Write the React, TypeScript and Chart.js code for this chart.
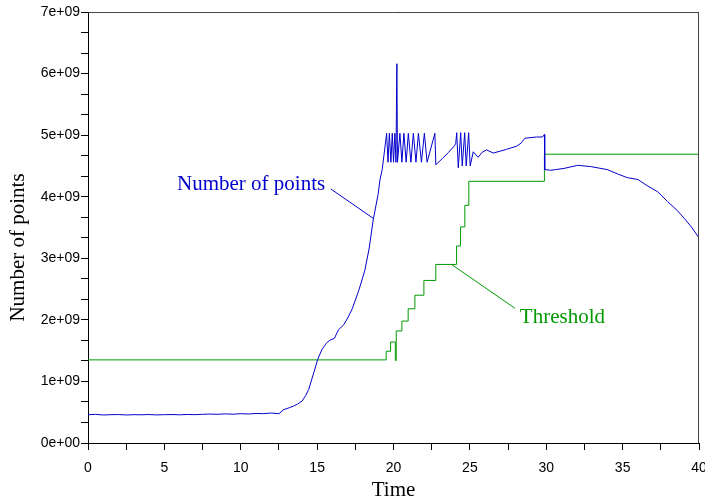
import React, { useEffect, useRef } from 'react';
import { Chart, registerables } from 'chart.js';

Chart.register(...registerables);

// ---- Data ----
const pointsTime = [
  0, 0.5, 1, 1.5, 2, 2.5, 3, 3.5, 4, 4.5, 5, 5.5, 6, 6.5, 7, 7.5, 8, 8.5, 9, 9.5, 10, 10.5, 11, 11.5, 12, 12.5,
  12.8, 13.2, 13.46, 13.7, 14.01, 14.25, 14.45, 14.78, 15.04, 15.32, 15.6, 15.83, 16.13, 16.4, 16.74, 17.0, 17.3,
  17.73, 18.12, 18.4, 18.67, 19.0, 19.11, 19.26,
  19.55, 19.64, 19.73, 19.83, 19.92, 20.0, 20.09, 20.16, 20.22, 20.26, 20.42, 20.55, 20.68, 20.83, 20.97, 21.14,
  21.3, 21.47, 21.63, 21.83, 22.02, 22.2, 22.71, 22.77,
  23.2, 23.6, 24.0, 24.07, 24.14, 24.24, 24.4, 24.5, 24.66, 24.76, 24.92, 25.02,
  25.22, 25.54, 25.8, 26.09, 26.53, 27.0, 27.4, 28.06, 28.35, 28.6, 29.0, 29.37, 29.75, 29.88, 29.9,
  30.3, 30.6, 31.17, 32.05, 32.9, 34.0, 34.67, 35.3, 36.0, 36.6, 37.3, 37.95, 38.6, 39.03, 39.5, 40,
];
const pointsValue = [
  0.46e9, 0.465e9, 0.455e9, 0.46e9, 0.462e9, 0.455e9, 0.46e9, 0.458e9, 0.462e9, 0.456e9, 0.46e9, 0.462e9, 0.458e9,
  0.463e9, 0.46e9, 0.466e9, 0.47e9, 0.466e9, 0.473e9, 0.468e9, 0.476e9, 0.471e9, 0.479e9, 0.477e9, 0.487e9, 0.476e9,
  0.54e9, 0.575e9, 0.6e9, 0.63e9, 0.68e9, 0.77e9, 0.87e9, 1.14e9, 1.36e9, 1.52e9, 1.62e9, 1.67e9, 1.7e9, 1.84e9,
  1.92e9, 2.03e9, 2.18e9, 2.48e9, 2.8e9, 3.15e9, 3.62e9, 4.05e9, 4.27e9, 4.44e9,
  5.03e9, 4.56e9, 5.03e9, 4.56e9, 5.03e9, 4.56e9, 5.03e9, 4.56e9, 6.16e9, 4.56e9, 5.03e9, 4.56e9, 5.03e9, 4.56e9,
  5.03e9, 4.56e9, 5.03e9, 4.56e9, 5.03e9, 4.56e9, 5.03e9, 4.56e9, 5.03e9, 4.52e9,
  4.62e9, 4.72e9, 4.83e9, 4.86e9, 5.04e9, 4.47e9, 5.04e9, 4.5e9, 5.04e9, 4.5e9, 5.04e9, 4.5e9,
  4.73e9, 4.64e9, 4.72e9, 4.76e9, 4.71e9, 4.74e9, 4.77e9, 4.82e9, 4.87e9, 4.95e9, 4.96e9, 4.97e9, 4.97e9, 5.01e9, 4.44e9,
  4.43e9, 4.44e9, 4.46e9, 4.51e9, 4.49e9, 4.44e9, 4.37e9, 4.31e9, 4.28e9, 4.18e9, 4.08e9, 3.92e9, 3.77e9, 3.65e9,
  3.51e9, 3.33e9,
];
const thresholdTime = [0, 19.52, 19.81, 20.12, 20.18, 20.55, 20.96, 21.4, 21.99, 22.77, 24.13, 24.39, 24.67, 24.93, 29.88, 40];
const thresholdValue = [
  1.35e9, 1.49e9, 1.64e9, 1.34e9, 1.82e9, 1.98e9, 2.18e9, 2.4e9, 2.64e9, 2.9e9, 3.2e9, 3.51e9, 3.86e9, 4.25e9, 4.69e9, 4.69e9,
];

const xMajorTicks = [0, 5, 10, 15, 20, 25, 30, 35, 40];
const xMajorLabels = ['0', '5', '10', '15', '20', '25', '30', '35', '40'];
const xMinorPerMajor = 1;
const yMajorTicks = [0, 1e9, 2e9, 3e9, 4e9, 5e9, 6e9, 7e9];
const yMajorLabels = ['0e+00', '1e+09', '2e+09', '3e+09', '4e+09', '5e+09', '6e+09', '7e+09'];
const yMinorPerMajor = 2;

const seriesNames = ['Number of points', 'Threshold'];
const xTitle = 'Time';
const yTitle = 'Number of points';

// annotation anchors in data units
const annotations = [
  { text: 'Number of points', color: '#0000cc', textAt: [5.83, 4.11e9], from: [15.9, 4.125e9], to: [18.67, 3.65e9] },
  { text: 'Threshold', color: '#009900', textAt: [28.27, 1.944e9], from: [23.8, 2.9e9], to: [27.94, 2.19e9] },
];

// ---- helpers ----
function withMinor(majors: number[], minorPer: number) {
  const out: number[] = [];
  for (let i = 0; i < majors.length; i++) {
    out.push(majors[i]);
    if (i < majors.length - 1) {
      const step = (majors[i + 1] - majors[i]) / (minorPer + 1);
      for (let k = 1; k <= minorPer; k++) out.push(majors[i] + step * k);
    }
  }
  return out;
}
function labelFor(v: number, majors: number[], labels: string[]) {
  const span = majors[majors.length - 1] - majors[0];
  for (let i = 0; i < majors.length; i++) {
    if (Math.abs(v - majors[i]) < span * 1e-6) return labels[i];
  }
  return '';
}

const SANS = '"Liberation Sans", Arial, Helvetica, sans-serif';
const SERIF = '"Liberation Serif", "Times New Roman", serif';

const framePlugin = {
  id: 'frame',
  afterDatasetsDraw(chart: any) {
    const { ctx, chartArea } = chart;
    ctx.save();
    ctx.strokeStyle = '#444';
    ctx.lineWidth = 1;
    ctx.beginPath();
    ctx.moveTo(chartArea.left, Math.round(chartArea.top) + 0.5);
    ctx.lineTo(chartArea.right, Math.round(chartArea.top) + 0.5);
    ctx.moveTo(Math.round(chartArea.right) - 0.5, chartArea.top);
    ctx.lineTo(Math.round(chartArea.right) - 0.5, chartArea.bottom);
    ctx.stroke();
    ctx.restore();
  },
};

const annotationPlugin = {
  id: 'leaderAnnotations',
  afterDatasetsDraw(chart: any) {
    const { ctx } = chart;
    const xs = chart.scales.x;
    const ys = chart.scales.y;
    ctx.save();
    annotations.forEach((a) => {
      ctx.strokeStyle = a.color;
      ctx.lineWidth = 1;
      ctx.beginPath();
      ctx.moveTo(xs.getPixelForValue(a.from[0]), ys.getPixelForValue(a.from[1]));
      ctx.lineTo(xs.getPixelForValue(a.to[0]), ys.getPixelForValue(a.to[1]));
      ctx.stroke();
      ctx.fillStyle = a.color;
      ctx.font = '21px ' + SERIF;
      ctx.textAlign = 'left';
      ctx.textBaseline = 'alphabetic';
      ctx.fillText(a.text, xs.getPixelForValue(a.textAt[0]), ys.getPixelForValue(a.textAt[1]));
    });
    // y axis title
    ctx.fillStyle = '#000';
    ctx.font = '21px ' + SERIF;
    ctx.textAlign = 'center';
    ctx.textBaseline = 'middle';
    ctx.translate(18, 247.5);
    ctx.rotate(-Math.PI / 2);
    ctx.fillText(yTitle, 0, 0);
    ctx.restore();
  },
};

export default function App() {
  const ref = useRef<HTMLCanvasElement | null>(null);
  useEffect(() => {
    if (!ref.current) return;
    const xTicks = withMinor(xMajorTicks, xMinorPerMajor);
    const yTicks = withMinor(yMajorTicks, yMinorPerMajor);
    const chart = new Chart(ref.current, {
      type: 'line',
      data: {
        datasets: [
          {
            label: seriesNames[0],
            data: pointsTime.map((t, i) => ({ x: t, y: pointsValue[i] })),
            borderColor: '#0000cc',
            borderWidth: 1,
            pointRadius: 0,
            tension: 0,
            fill: false,
          },
          {
            label: seriesNames[1],
            data: thresholdTime.map((t, i) => ({ x: t, y: thresholdValue[i] })),
            borderColor: '#009a00',
            borderWidth: 1,
            pointRadius: 0,
            stepped: 'before',
            fill: false,
          },
        ],
      },
      options: {
        animation: false,
        responsive: false,
        events: [],
        layout: { padding: { left: 0, right: 6, top: 12, bottom: 0 } },
        plugins: { legend: { display: false }, tooltip: { enabled: false }, title: { display: false } },
        scales: {
          x: {
            type: 'linear',
            min: 0,
            max: 40,
            afterBuildTicks: (scale: any) => {
              scale.ticks = xTicks.map((v) => ({ value: v }));
            },
            afterFit: (scale: any) => {
              scale.height = 59;
              scale.paddingLeft = 0;
              scale.paddingRight = 0;
            },
            ticks: {
              autoSkip: false,
              maxRotation: 0,
              padding: 10,
              color: '#000',
              font: { family: SANS, size: 14 },
              callback: (v: any) => labelFor(Number(v), xMajorTicks, xMajorLabels),
            },
            grid: { drawOnChartArea: false, drawTicks: true, tickLength: 7, color: '#000' },
            border: { display: true, color: '#000', width: 1 },
            title: {
              display: true,
              text: xTitle,
              color: '#000',
              font: { family: SERIF, size: 21 },
              padding: { top: 0, bottom: -1 },
            },
          },
          y: {
            type: 'linear',
            min: 0,
            max: 7e9,
            afterBuildTicks: (scale: any) => {
              scale.ticks = yTicks.map((v) => ({ value: v }));
            },
            afterFit: (scale: any) => {
              scale.width = 88;
              scale.paddingTop = 0;
              scale.paddingBottom = 0;
            },
            ticks: {
              autoSkip: false,
              padding: 1,
              color: '#000',
              font: { family: SANS, size: 14 },
              callback: (v: any) => labelFor(Number(v), yMajorTicks, yMajorLabels),
            },
            grid: { drawOnChartArea: false, drawTicks: true, tickLength: 7, color: '#000' },
            border: { display: true, color: '#000', width: 1 },
          },
        },
      },
      plugins: [framePlugin, annotationPlugin],
    } as any);
    return () => chart.destroy();
  }, []);
  return (
    <div style={{ position: 'absolute', left: 0, top: 0, width: 705, height: 502, background: '#fff' }}>
      <canvas ref={ref} width={705} height={502} />
    </div>
  );
}
